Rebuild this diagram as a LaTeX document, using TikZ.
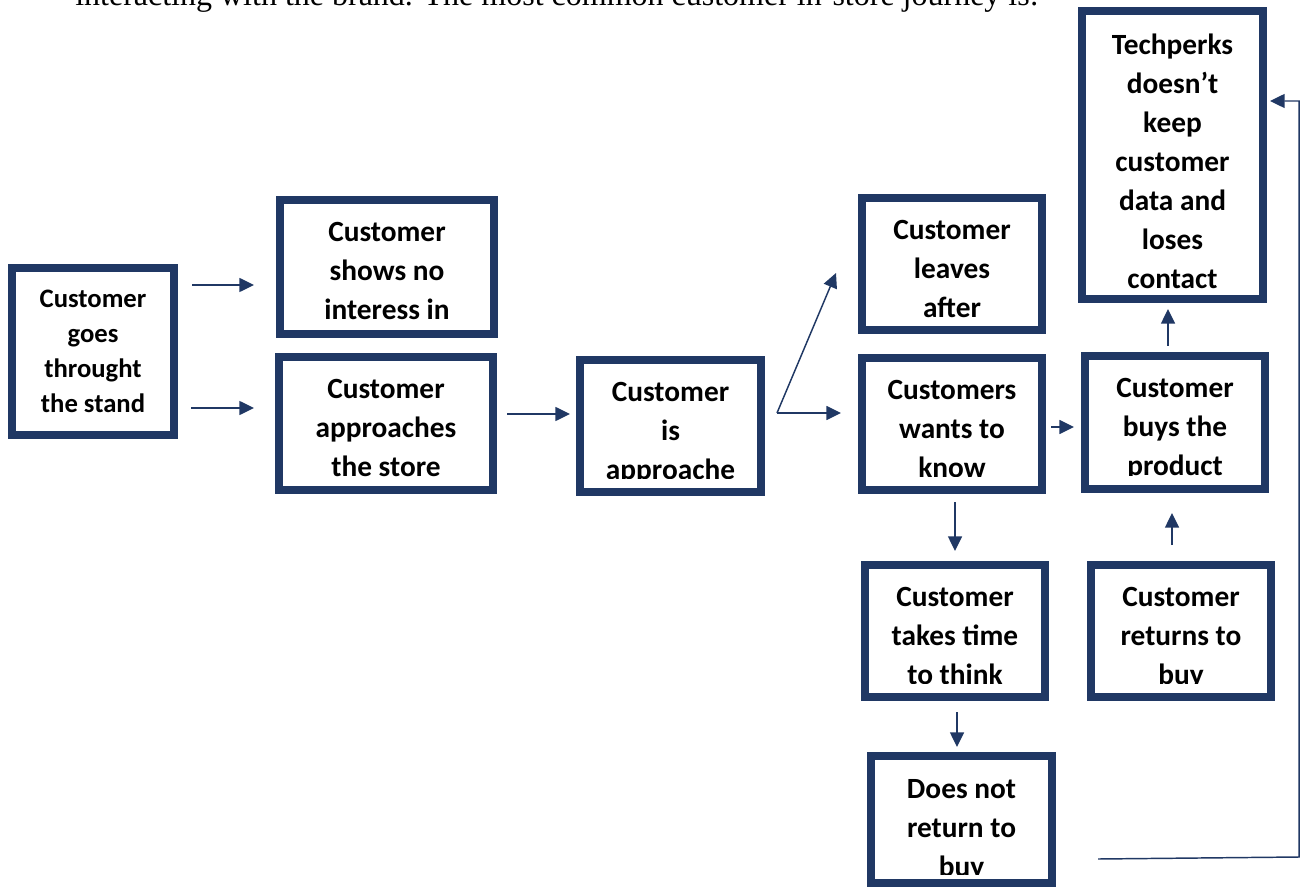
\documentclass[tikz,border=0pt]{standalone}
\usepackage{fontspec}
\setmainfont{Carlito}
\newfontfamily\bodyfont{Liberation Serif}
\usetikzlibrary{arrows.meta,calc}
\definecolor{journeyBlue}{RGB}{32,56,100}

\begin{document}
\begin{tikzpicture}[x=0.75pt,y=-0.75pt,
  jarrow/.style={draw=journeyBlue, line width=1.1pt, -{Triangle[length=11pt,width=10.5pt]}},
  jbox/.style={draw=journeyBlue, line width=6pt, inner sep=0pt},
  jtext/.style={anchor=north, inner sep=0pt, align=center, execute at begin node={\rule{0pt}{16pt}}}
]

\useasboundingbox (0,0) rectangle (1301,887);

% the sentence above the chart (cut by the page)
\node[anchor=base west, inner sep=0pt, font=\bodyfont\fontsize{24}{28}\selectfont] (intro) at (75,6) {interacting with the brand. The most common customer in-store journey is:};

% draw the boxes: name/left/top/right/bottom/first line/text cut/font size/line skip/text
\foreach \name/\xa/\ya/\xb/\yb/\first/\cut/\fs/\ls/\txt in {
  A/8/264/178/439/25.4/18/20/26.25/{Customer\\goes\\throught\\the stand},
  B/276/196/498/338/26.2/14/22/29.25/{Customer\\shows no\\interess in},
  C/275/353/497/494/26.2/18/22/29.25/{Customer\\approaches\\the store},
  D/576/356/765/496/26.2/18/22/29.25/{Customer\\is\\approache},
  E/858/194/1046/334/26.2/13/22/29.25/{Customer\\leaves\\after},
  F/858/354/1046/494/26.2/18/22/29.25/{Customers\\wants to\\know},
  G/1078/7/1267/303/26.2/10/22/29.25/{Techperks\\doesn’t\\keep\\customer\\data and\\loses\\contact},
  H/1081/352/1269/493/26.2/18/22/29.25/{Customer\\buys the\\product},
  I/861/561/1049/701/26.2/18/22/29.25/{Customer\\takes time\\to think},
  J/1087/561/1275/701/26.2/18/22/29.25/{Customer\\returns to\\buy},
  K/867/752/1056/887/27.2/13/22/29.25/{Does not\\return to\\buy}}
{
  \node[jbox, minimum width={(\xb-\xa-8)*0.75pt}, minimum height={(\yb-\ya-8)*0.75pt}] (\name) at ({(\xa+\xb)/2},{(\ya+\yb)/2}) {};
  \begin{scope}
    \clip (\xa+8,\ya+8) rectangle (\xb-8,\yb-\cut);
    \node[jtext, font=\bfseries\fontsize{\fs}{\ls}\selectfont] at ({(\xa+\xb)/2},\ya+\first) {\txt};
  \end{scope}
}

% draw the arrows
\draw[jarrow, shorten <=10.5pt, shorten >=16.5pt] (A.east |- 0,285) -- (B.west |- 0,285);
\draw[jarrow, shorten <=9.75pt, shorten >=15.75pt] (A.east |- 0,408) -- (C.west |- 0,408);
\draw[jarrow, shorten <=7.5pt, shorten >=4.5pt] (C.east |- 0,414) -- (D.west |- 0,414);
\draw[jarrow] ($(D.east |- 0,413)+(12,0)$) -- ($(E.west |- 0,273)+(-22,0)$);
\draw[jarrow, shorten <=9pt, shorten >=12.75pt] (D.east |- 0,413) -- (F.west |- 0,413);
\draw[jarrow, shorten <=3.75pt, shorten >=5.25pt] (F.east |- 0,427) -- (H.west |- 0,427);
\draw[jarrow, shorten <=4.5pt, shorten >=4.5pt] (H.north -| 1168,0) -- (G.south -| 1168,0);
\draw[jarrow, shorten <=12pt, shorten >=15pt] (J.north -| 1172,0) -- (H.south -| 1172,0);
\draw[jarrow, shorten <=6pt, shorten >=7.5pt] (F.south -| 955,0) -- (I.north -| 955,0);
\draw[jarrow, shorten <=8.25pt, shorten >=3.75pt] (I.south -| 957,0) -- (K.north -| 957,0);

% back to the top box
\coordinate (backStart) at ($(K.east |- 0,859)+(42,0)$);
\draw[jarrow, shorten >=2.25pt] (backStart) -- (1299,857) -- (1299,101) -- (G.east |- 0,101);

\end{tikzpicture}
\end{document}
